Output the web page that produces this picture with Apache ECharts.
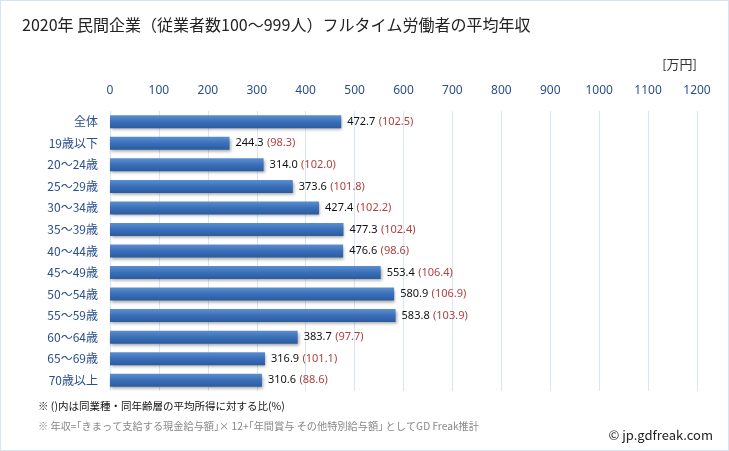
<!DOCTYPE html>
<html><head><meta charset="utf-8">
<script src="https://cdn.jsdelivr.net/npm/echarts@6/dist/echarts.min.js"></script>
<style>html,body{margin:0;padding:0;background:#fff}#c{width:729px;height:451px;box-sizing:border-box;border:1px solid #d6e3f0}</style>
</head><body><div id="c"></div>
<script>
const categories = ['全体','19歳以下','20～24歳','25～29歳','30～34歳','35～39歳','40～44歳','45～49歳','50～54歳','55～59歳','60～64歳','65～69歳','70歳以上'];
const values = [472.7,244.3,314.0,373.6,427.4,477.3,476.6,553.4,580.9,583.8,383.7,316.9,310.6];
const ratios = [102.5,98.3,102.0,101.8,102.2,102.4,98.6,106.4,106.9,103.9,97.7,101.1,88.6];
const xTicks = [0,100,200,300,400,500,600,700,800,900,1000,1100,1200];

const chart = echarts.init(document.getElementById('c'));
chart.setOption({
  animation:false,
  backgroundColor:'#fff',
  title:{text:'2020年 民間企業（従業者数100～999人）フルタイム労働者の平均年収',left:16,top:11,
    textStyle:{fontSize:16,fontWeight:'normal',color:'#222',fontFamily:'Noto Sans CJK JP'}},
  graphic:[
    {type:'text',right:31,top:57,style:{text:'[万円]',fontSize:13,fill:'#333',fontFamily:'Noto Sans CJK JP'}},
    {type:'text',left:37,top:400,style:{text:'※ ()内は同業種・同年齢層の平均所得に対する比(%)',fontSize:10.5,fill:'#111',fontFamily:'Noto Sans CJK JP'}},
    {type:'text',left:37,top:420,style:{text:'※ 年収=｢きまって支給する現金給与額｣× 12+｢年間賞与 その他特別給与額｣ としてGD Freak推計',fontSize:10.2,fill:'#888',fontFamily:'Noto Sans CJK JP'}},
    {type:'text',right:15,top:428,style:{text:'© jp.gdfreak.com',fontSize:13,fill:'#222',fontFamily:'Noto Sans CJK JP'}}
  ],
  grid:{left:109,right:31,top:110,height:280,containLabel:false},
  xAxis:{type:'value',position:'top',min:0,max:1200,interval:100,
    axisLine:{show:false},axisTick:{show:false},
    axisLabel:{color:'#2a4f8a',fontSize:12,margin:14,fontFamily:'Noto Sans',
      formatter:function(v){return xTicks.indexOf(v)>=0?String(v):'';}},
    splitLine:{lineStyle:{color:'#d8e6f4',width:1}}},
  yAxis:{type:'category',data:categories,inverse:true,
    axisLine:{show:false},axisTick:{show:false},
    axisLabel:{color:'#2a4f8a',fontSize:12,margin:12,fontFamily:'Noto Sans CJK JP'}},
  series:[{type:'bar',data:values,barWidth:13,
    itemStyle:{color:new echarts.graphic.LinearGradient(0,0,0,1,[{offset:0,color:'#5b8fd0'},{offset:0.5,color:'#3a6fb8'},{offset:1,color:'#2a5b9e'}]),
      shadowColor:'rgba(0,0,0,0.35)',shadowBlur:3,shadowOffsetX:1,shadowOffsetY:2},
    label:{show:true,position:'right',distance:6,
      formatter:function(p){return '{a|'+values[p.dataIndex].toFixed(1)+'} {b|('+ratios[p.dataIndex].toFixed(1)+')}';},
      rich:{a:{color:'#111',fontSize:11,fontFamily:'Noto Sans'},b:{color:'#b04040',fontSize:11,fontFamily:'Noto Sans'}}}
  }]
});
</script></body></html>
